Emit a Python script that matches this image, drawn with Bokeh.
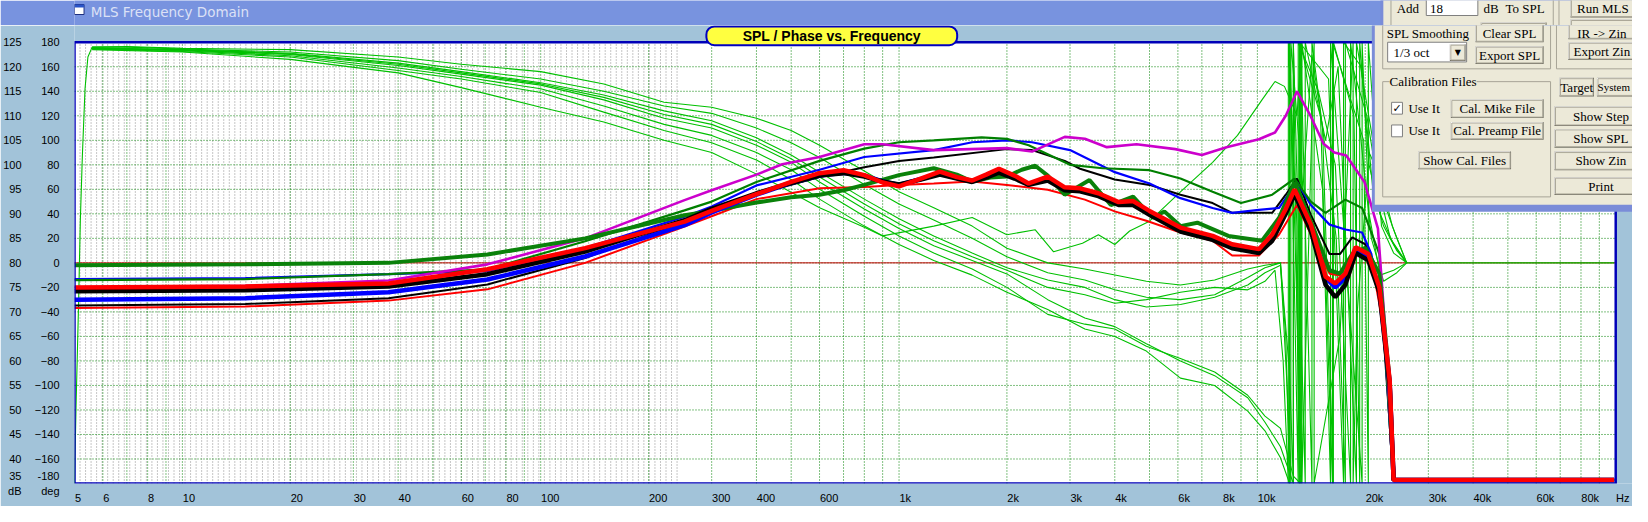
import numpy as np
from bokeh.plotting import figure
from bokeh.layouts import column
from bokeh.models import Range1d, LinearAxis, FixedTicker, BoxAnnotation, Label
from bokeh.embed import file_html
from bokeh.resources import INLINE

# ---------------- data ----------------
x_tick_values = [5, 6, 8, 10, 20, 30, 40, 60, 80, 100, 200, 300, 400, 600, 1000, 2000, 3000,
                 4000, 6000, 8000, 10000, 20000, 30000, 40000, 60000, 80000]
x_tick_labels = ["5", "6", "8", "10", "20", "30", "40", "60", "80", "100", "200", "300", "400",
                 "600", "1k", "2k", "3k", "4k", "6k", "8k", "10k", "20k", "30k", "40k", "60k", "80k"]
db_ticks = [35, 40, 45, 50, 55, 60, 65, 70, 75, 80, 85, 90, 95, 100, 105, 110, 115, 120, 125]
deg_ticks = [-180, -160, -140, -120, -100, -80, -60, -40, -20, 0, 20, 40, 60, 80, 100, 120, 140, 160, 180]
grid_freqs = [6, 7, 8, 9, 10, 20, 30, 40, 50, 60, 70, 80, 90, 100, 200, 300, 400, 500, 600, 700, 800, 900,
              1000, 2000, 3000, 4000, 5000, 6000, 7000, 8000, 9000, 10000, 20000, 30000, 40000, 50000,
              60000, 70000, 80000, 90000]

# SPL curves (Hz, dB)
f_thick = [5, 15, 37.6, 71, 133, 252, 300, 400, 500, 600, 700, 800, 900, 1000, 1150, 1300, 1450, 1600,
           1750, 1900, 2100, 2300, 2600, 2900, 3200, 3600, 4100, 4500, 5000, 6100, 7500, 8500, 10100,
           11000, 12000, 12700, 14100, 15500, 16500, 17600, 18800, 20400, 21900, 23400, 24000, 99000]
spl_red_thick = [75, 75.2, 75.8, 78.7, 83, 88.4, 90.6, 94, 96.5, 98.3, 98.9, 97.9, 96.4, 95.6, 97.2, 98.6,
                 97.5, 96.8, 98, 99.2, 97.8, 96.2, 97.6, 95.4, 95.2, 94.2, 92.4, 92.6, 90.6, 87.2, 85.5,
                 83.8, 82.8, 85.8, 91, 95, 87.8, 77.2, 75.8, 77.8, 83.2, 81.8, 75, 56, 35.7, 35.7]
spl_black_thick = [74.2, 74.4, 75.2, 77.7, 82.3, 88.7, 91, 94.2, 96.3, 97.8, 98.3, 97.6, 96.6, 96, 97, 98,
                   97.2, 96.5, 97.4, 98.4, 97.2, 95.9, 96.8, 94.8, 94.6, 93.6, 91.8, 91.8, 89.8, 86.4, 84.7,
                   83, 82, 84.5, 90, 94, 86.5, 75.5, 73, 75.5, 82, 80.5, 74, 55, 35.7, 35.7]
spl_blue_thick = [72.5, 72.8, 74, 76.6, 81.3, 87.7, 90.3, 93.9, 96.3, 97.8, 98.4, 97.8, 96.6, 95.9, 97.1,
                  98.3, 97.3, 96.6, 97.7, 98.8, 97.4, 96, 97.2, 95, 94.9, 93.9, 92.1, 92.2, 90.2, 86.8,
                  85.1, 83.4, 82.4, 85.2, 90.5, 94.6, 87.2, 77, 75, 77, 82.8, 81.2, 74.5, 55.5, 35.7, 35.7]

f_green_thick = [5, 15, 37.6, 71, 133, 252, 300, 400, 500, 600, 700, 800, 1000, 1250, 1450, 1600, 1800,
                 2000, 2200, 2400, 2600, 2900, 3400, 3900, 4500, 5100, 5500, 6100, 6800, 8300, 10300,
                 11500, 12700, 14100, 15900, 17000, 18400, 20000, 21900, 23400, 24000, 99000]
spl_green_thick = [79.5, 79.7, 80, 81.7, 85, 89.7, 90.6, 92.3, 93.4, 93.9, 94.8, 95.9, 97.9, 99.3, 98, 96.6,
                   97.4, 97.6, 99, 99.8, 97.8, 93.9, 96.9, 91.8, 93.5, 89.2, 90.5, 87.5, 88.2, 85.5, 84.5,
                   89.2, 96.5, 88.5, 78.5, 77.8, 81.8, 83.1, 77.8, 56, 35.7, 35.7]

f_red_thin = [5, 15, 37.6, 71, 133, 252, 300, 400, 600, 800, 1000, 1250, 1600, 2000, 2600, 3300, 4000,
              4900, 6100, 7500, 8500, 10100, 11500, 12900, 14100, 15900, 18000, 19200, 20800, 23000,
              24200, 99000]
spl_red_thin = [70.8, 71.1, 72.3, 74.6, 80, 87.4, 89.5, 93, 95.2, 95.5, 95.9, 96.2, 96.6, 95.9, 94.9, 92.9,
                90.5, 88.6, 86.2, 84.5, 81.5, 81.5, 85.8, 91.8, 85.8, 77.8, 77.1, 83.1, 80.5, 63, 35.7, 35.7]

f_black_thin = [5, 15, 37.6, 71, 133, 252, 300, 400, 600, 800, 1000, 1250, 2000, 2350, 2900, 3200, 4000,
                5000, 6100, 7500, 8500, 11000, 12000, 12900, 14100, 15900, 17000, 18400, 20000, 21900,
                23600, 24100, 99000]
spl_black_thin = [71.3, 71.6, 72.8, 75.6, 81, 88.4, 90.8, 94, 97.5, 99.5, 100.8, 101.5, 103.2, 103, 100.8,
                  99.2, 97, 95.9, 93.9, 92.2, 90.2, 90.2, 93.9, 97.2, 89.8, 81.8, 81.8, 85.2, 83.8, 77.8,
                  43, 35.7, 35.7]

f_blue_thin = [5, 15, 37.6, 71, 133, 252, 300, 400, 600, 800, 1250, 1600, 2000, 2350, 3000, 4000, 5000,
               6100, 7500, 8500, 10100, 11500, 12900, 14100, 15900, 17600, 19600, 20800, 22400, 23600,
               24100, 99000]
spl_blue_thin = [76.7, 76.9, 77.7, 78.3, 83, 89.4, 91.5, 95.8, 99, 101.6, 103, 104.6, 105, 104.6, 103, 98.5,
                 96.2, 93.2, 91.2, 90.2, 90.8, 91.2, 96.5, 91.8, 87.8, 86.8, 86.2, 81.8, 69.8, 43, 35.7, 35.7]

f_green_thin = [5, 15, 37.6, 71, 133, 252, 300, 400, 600, 800, 1000, 1250, 1700, 2000, 2300, 3000, 3700,
                5000, 6100, 7500, 9000, 11000, 12700, 14100, 15500, 17600, 19600, 21900, 23600, 24100, 99000]
spl_green_thin = [76.5, 76.7, 77.7, 78.7, 84.4, 90.7, 92.5, 96.5, 100.8, 103.3, 104.6, 105, 105.6, 105.3,
                  104, 100, 99.3, 98.9, 97.2, 94.5, 92.2, 93.9, 97.2, 92.5, 90.2, 92.9, 91.2, 81.8, 43,
                  35.7, 35.7]

f_magenta = [5, 15, 37.6, 71, 133, 252, 300, 400, 472, 600, 800, 900, 1250, 2000, 2350, 2900, 3300, 3800,
             4600, 5900, 7000, 8200, 10100, 11200, 12000, 12900, 14000, 15300, 16400, 17700, 19900, 21700,
             22700, 23600, 24200, 99000]
spl_magenta = [75, 75.3, 76.4, 79.7, 85, 92.8, 94.8, 98, 100.1, 101.6, 104.2, 104.2, 103, 103.4, 102.7,
               105.7, 105.3, 103.6, 104.2, 103.2, 102, 103.6, 105.2, 106.6, 110, 115, 110.3, 104.3, 102.5,
               101.9, 96.5, 87, 67, 45, 35.7, 35.7]

# Phase curves (Hz, deg); +180/-180 pairs at one frequency are the phase wraps
f_ph1 = [5.0, 5.05, 5.13, 5.19, 5.26, 5.35, 5.45, 5.6, 7, 10, 20, 40, 60, 100, 150, 221, 300, 400, 500, 600,
         800, 1000, 1250, 1600, 2000, 2600, 3300, 4900, 6100, 7600, 9400, 10500, 11600, 12300, 12600, 12600,
         13100, 13100, 15800, 17400, 17400, 19500, 21000, 22500, 24500, 26100, 99000]
ph1 = [-180, -117, -36, 34, 88, 142, 168, 176, 176.5, 175, 174, 168, 162, 156, 146, 131, 127, 118, 108, 96,
       75, 58, 45, 30, 12, 0, -5, -15, -18, -14, -5, -2, 0, -90, -180, 180, -180, 180, 150, -180, 180, 160,
       60, 30, 10, 0, 0]
f_ph2 = [5.6, 7, 10, 20, 40, 60, 100, 150, 221, 300, 400, 500, 600, 800, 1000, 1250, 1600, 2000, 2600, 3300,
         4000, 4900, 6100, 7600, 9400, 10500, 11600, 12100, 12400, 12400, 13400, 14200, 15200, 16300, 16300,
         18600, 19300, 19300, 20500, 22000, 24000, 26100]
ph2 = [176, 176, 174.5, 172, 165, 158, 150, 140, 128, 122, 110, 98, 86, 64, 48, 35, 20, 5, -8, -14, -22, -28,
       -30, -26, -12, -4, 0, -100, -180, 180, 60, 170, 110, -180, 180, 120, -180, 180, 80, 40, 15, 0]
f_ph3 = [5.6, 10, 20, 40, 60, 100, 150, 221, 300, 400, 500, 600, 800, 1000, 1250, 1600, 2000, 2600, 3300,
         4000, 4900, 6100, 7600, 9400, 10500, 11600, 12000, 12300, 12300, 13000, 13000, 14800, 16500, 18200,
         18200, 20800, 22500, 24500, 26100]
ph3 = [175.5, 174, 171, 163, 156, 147, 137, 124, 116, 102, 88, 74, 52, 36, 22, 8, -4, -14, -20, -30, -36, -34,
       -28, -18, -8, -2, -60, -180, 180, -180, 180, 140, 80, -180, 180, 20, -15, -8, 0]
f_ph4 = [5.6, 10, 20, 40, 60, 100, 150, 221, 300, 400, 500, 600, 800, 1000, 1250, 1600, 2000, 2600, 3300,
         4000, 4900, 6100, 7600, 9400, 10500, 11600, 12600, 12600, 13600, 13600, 15500, 16800, 18900, 18900,
         21000, 22500, 24500, 26100]
ph4 = [175, 173.5, 170, 161, 154, 145, 133, 118, 110, 96, 82, 66, 44, 28, 14, 2, -9, -30, -45, -52, -66, -80,
       -92, -110, -130, -150, -180, 180, -180, 180, 100, 160, -180, 180, 100, 50, 20, 0]
f_ph5 = [5.6, 10, 20, 40, 60, 100, 150, 221, 300, 400, 500, 600, 800, 1000, 1250, 1600, 2000, 2600, 3300,
         4000, 4900, 6100, 7600, 9400, 10500, 11600, 12600, 13200, 13200, 14200, 14200, 16600, 17600, 17600,
         20200, 21800, 23500, 26100]
ph5 = [175, 173, 169, 159, 152, 142, 128, 113, 104, 90, 76, 60, 38, 22, 8, -5, -20, -42, -50, -54, -68, -78,
       -89, -108, -125, -135, -174, -180, 180, -180, 180, 20, -180, 180, 120, 60, 20, 0]
f_ph6 = [5.6, 10, 20, 40, 60, 100, 150, 221, 300, 400, 500, 600, 800, 1000, 1250, 1600, 2000, 2600, 3300,
         4000, 4900, 6100, 7600, 9400, 10500, 11600, 12300, 12300, 13300, 13300, 15200, 16000, 16000, 19600,
         19600, 20500, 22000, 24000, 26100]
ph6 = [174.5, 172.5, 168, 157, 150, 139, 123, 108, 98, 84, 68, 52, 30, 15, 2, -10, -24, -38, -54, -60, -72,
       -94, -100, -121, -137, -159, -180, 180, -180, 180, 60, -180, 180, -180, 180, 40, -10, -6, 0]
f_ph7 = [5.6, 10, 20, 40, 60, 100, 150, 221, 300, 430, 600, 800, 900, 1250, 1600, 2000, 2400, 2700, 3250,
         3600, 4000, 4400, 5000, 6100, 7500, 8800, 10300, 11200, 11900, 12900, 13300, 13300, 13800, 14400,
         14400, 17000, 18500, 18500, 19000, 20500, 22000, 23800, 26100]
ph7 = [174, 172, 166, 155, 143, 127, 115, 100, 90, 68, 45, 29, 22, 30, 37, 23, 27, 9, 16, 23, 15, 26, 34, 58,
       82, 104, 133, 148, 144, 120, 180, -180, -20, 180, -180, -60, 180, -180, -40, 90, 70, 30, 0]
f_ph8 = [5.6, 10, 20, 40, 60, 100, 150, 221, 300, 400, 500, 600, 800, 1000, 1250, 1600, 2000, 2600, 3300,
         4000, 4900, 6100, 7600, 9400, 10500, 11200, 11800, 12200, 12200, 12900, 13100, 13100, 15000, 16200,
         16200, 19800, 20400, 20400, 22200, 24000, 26100]
ph8 = [175, 173.8, 170.5, 162, 155, 146, 135, 121, 113, 99, 85, 70, 48, 32, 18, 5, -6, -20, -26, -33, -30,
       -24, -20, -22, -15, -6, -80, -180, 180, 30, -180, 180, 120, -180, 180, 100, -180, 180, 30, 8, 0]

# ---------------- geometry (page pixels) ----------------
W = 1632
TOP_H = 25                 # title-bar strip: page y 8..33
MAIN_H = 481               # page y 33..514
PLOT_L, PLOT_R = 62, 1623  # page x of plot frame
PLOT_T, PLOT_B = 50, 498   # page y of plot frame
MAIN_TOP = 33
PXD = (PLOT_R - PLOT_L) / np.log10(100000 / 5)   # px per decade
L5 = np.log10(5)

CLIENT = "#A2C3D9"
TITLEBAR = "#7893DF"
BEIGE = "#ECE9D8"
GRIDGREEN = "#008000"


def MX(px):
    return float(10 ** (L5 + (px - PLOT_L) / PXD))


def MY(py):
    return float(-180 + (PLOT_B - py) / (PLOT_B - PLOT_T) * 360)


x_end = MX(8 + W)
deg_end = MY(MAIN_TOP)
db_end = 35 + (deg_end + 180) / 360 * 90

# ---------------- main figure ----------------
p = figure(width=W, height=MAIN_H, x_axis_type="log", x_range=Range1d(5, x_end),
           y_range=Range1d(-180, deg_end), output_backend="svg", toolbar_location=None,
           min_border_left=PLOT_L - 8, min_border_right=0, min_border_top=0,
           min_border_bottom=MAIN_TOP + MAIN_H - PLOT_B,
           background_fill_color=CLIENT, border_fill_color=CLIENT, outline_line_color=None)
p.grid.visible = False
p.extra_y_ranges = {"db": Range1d(35, db_end)}

AX = dict(axis_line_color=None, major_tick_line_color=None, minor_tick_line_color=None,
          major_label_text_font="Liberation Sans", major_label_text_font_size="11px",
          major_label_text_color="black")

# the reference writes each frequency label starting at its grid line: shift the centred
# Bokeh labels right by half their (Arial-metric) width
CHAR_W = {"k": 5.5, "H": 7.94, "z": 5.5}


def label_pos(val, text):
    w = sum(CHAR_W.get(ch, 6.12) for ch in text)
    return float(val * 10 ** ((w / 2 + 0.5) / PXD))


x_label_pos = [label_pos(v, s) for v, s in zip(x_tick_values, x_tick_labels)] + [label_pos(100000, "Hz")]
xa = p.xaxis[0]
xa.ticker = FixedTicker(ticks=x_label_pos)
xa.major_label_overrides = dict(zip(x_label_pos, x_tick_labels + ["Hz"]))
xa.major_label_standoff = 2
for k, v in AX.items():
    setattr(xa, k, v)

ya = p.yaxis[0]
ya.ticker = FixedTicker(ticks=deg_ticks)
ya.major_label_overrides = {-180: "-180\ndeg"}
ya.major_label_standoff = 9
for k, v in AX.items():
    setattr(ya, k, v)

dba = LinearAxis(y_range_name="db", ticker=FixedTicker(ticks=db_ticks), major_label_standoff=4,
                 major_label_overrides={35: "35\ndB"}, **AX)
p.add_layout(dba, "left")

# plot area background and grid
p.add_layout(BoxAnnotation(left=5, right=100000, bottom=-180, top=180, fill_color="white", fill_alpha=1,
                           line_color=None, level="image"))
dense = list(5 * 10 ** (np.arange(1, 110) * 5.6 / 363))
p.segment(x0=dense, y0=[-180] * len(dense), x1=dense, y1=[180] * len(dense), line_color="#8C8C8C",
          line_width=1, line_dash="1 2", level="underlay")
p.segment(x0=grid_freqs, y0=[-180] * len(grid_freqs), x1=grid_freqs, y1=[180] * len(grid_freqs),
          line_color=GRIDGREEN, line_width=1, line_dash="1 2", level="underlay")
hl = deg_ticks[1:-1]
p.segment(x0=[5] * len(hl), y0=hl, x1=[100000] * len(hl), y1=hl, line_color=GRIDGREEN, line_width=1,
          line_dash="1 2", level="underlay")
p.segment(x0=[5], y0=[0], x1=[100000], y1=[0], line_color="#C00000", line_width=1, level="underlay")

# phase curves
for f, d in [(f_ph1, ph1), (f_ph2, ph2), (f_ph3, ph3), (f_ph4, ph4), (f_ph5, ph5),
             (f_ph6, ph6), (f_ph7, ph7), (f_ph8, ph8)]:
    p.line(f, d, line_color="#00C000", line_width=1.1)

# SPL curves
for f, v, c, w in [(f_red_thin, spl_red_thin, "#FF0000", 2), (f_black_thin, spl_black_thin, "#000000", 2),
                   (f_blue_thin, spl_blue_thin, "#0000FF", 2.2), (f_green_thin, spl_green_thin, "#008000", 2.2),
                   (f_magenta, spl_magenta, "#CC00CC", 2.6), (f_green_thick, spl_green_thick, "#0A820A", 4),
                   (f_thick, spl_blue_thick, "#0000FF", 4.5), (f_thick, spl_black_thick, "#000000", 4.5),
                   (f_thick, spl_red_thick, "#FF0000", 4.5)]:
    p.line(f, v, y_range_name="db", line_color=c, line_width=w)

# plot border
p.add_layout(BoxAnnotation(left=5, right=100000, bottom=-180, top=180, fill_color=None,
                           line_color="#0000B8", line_alpha=1, line_width=2.5))

# ---------------- title-bar strip figure (pixel coordinates) ----------------
t = figure(width=W, height=TOP_H, x_range=Range1d(0, W), y_range=Range1d(TOP_H, 0),
           output_backend="svg", toolbar_location=None, x_axis_location=None, y_axis_location=None,
           min_border=0, background_fill_color=TITLEBAR, border_fill_color=TITLEBAR, outline_line_color=None)
t.grid.visible = False

FIGS = [(t, lambda px: float(px - 8), lambda py: float(py - 8), 8, 33),
        (p, MX, MY, 33, 514)]


def bx(x0, y0, x1, y1, fill=None, line=None, lw=1, **kw):
    for fig, fx, fy, ya_, yb_ in FIGS:
        if y1 < ya_ or y0 > yb_:
            continue
        fig.add_layout(BoxAnnotation(left=fx(x0), right=fx(x1), top=fy(y0), bottom=fy(y1),
                                     fill_color=fill, fill_alpha=1, line_color=line, line_alpha=1,
                                     line_width=lw, **kw))


def txt(x, y, s, size="13px", font="Liberation Serif", align="left", color="black", style="normal", **kw):
    for fig, fx, fy, ya_, yb_ in FIGS:
        if ya_ <= y < yb_:
            fig.add_layout(Label(x=fx(x), y=fy(y), text=s, text_align=align, text_baseline="middle",
                                 text_font_size=size, text_font=font, text_color=color,
                                 text_font_style=style, **kw))
            break


def button(x0, y0, x1, y1, label, cx=None, cy=None, size="13px"):
    bx(x0, y0, x1, y1, fill="#716F64")
    bx(x0, y0, x1 - 1, y1 - 1, fill="#FFFFFF")
    bx(x0 + 1, y0 + 1, x1 - 1, y1 - 1, fill=BEIGE, line="#ACA899")
    if label:
        txt((x0 + x1) / 2 if cx is None else cx, (y0 + y1) / 2 if cy is None else cy, label,
            align="center", size=size)


# window title bar
bx(8, 12, 18, 22, fill="#FFFFFF", line="#1E2F80")
bx(8, 12, 18, 15, fill="#2A54C8")
txt(25, 19, "MLS Frequency Domain", size="13.5px", font="DejaVu Sans", color="#DCE1F6")

# chart title
bx(702, 34, 956, 53, fill="#FFFF40", line="#0000C0", lw=2, border_radius=8)
txt(829, 43.5, "SPL / Phase vs. Frequency", size="14px", font="Liberation Sans", align="center", style="bold")

# control panel
bx(1376, 0, 1660, 222, fill="#7A8CD8")
bx(1379, 0, 1660, 215, fill=BEIGE)
bx(1387, -5, 1557, 77, line="#A7A497")
bx(1563, -5, 1660, 77, line="#A7A497")
bx(1387, 90, 1557, 207, line="#A7A497")

txt(1393, 16, "Add")
bx(1424, 2, 1478, 23, fill="#FFFFFF", line="#7F7F7F")
txt(1428, 16, "18")
txt(1484, 16, "dB")
txt(1507, 16, "To SPL")
txt(1391, 41, "SPL Smoothing")
bx(1392, 50, 1472, 70, fill="#FFFFFF", line="#7F7F7F")
txt(1398, 60, "1/3 oct")
button(1455, 52, 1471, 69, "")
txt(1463, 60.5, "\u25BC", size="8px", font="DejaVu Sans", align="center")
button(1481, 30, 1550, 50, "Clear SPL", cy=41.5)
button(1481, 54, 1550, 72, "Export SPL")
button(1575, 0, 1644, 25, "Run MLS", cx=1609, cy=16)
button(1575, 27, 1644, 47, "IR -> Zin", cx=1609, cy=41.5)
button(1575, 50, 1644, 68, "Export Zin", cx=1609)

txt(1394, 90, "Calibration Files", background_fill_color=BEIGE)
bx(1396, 111, 1407, 123, fill="#FFFFFF", line="#7F7F7F")
txt(1401.5, 117, "\u2713", size="11px", font="DejaVu Sans", align="center", style="bold")
txt(1413, 117, "Use It")
bx(1396, 134, 1407, 146, fill="#FFFFFF", line="#7F7F7F")
txt(1413, 140, "Use It")
button(1456, 108, 1550, 127, "Cal. Mike File")
button(1456, 131, 1550, 149, "Cal. Preamp File")
button(1423, 161, 1517, 179, "Show Cal. Files")

button(1566, 86, 1601, 105, "Target")
button(1604, 86, 1660, 105, "System", cx=1621, size="11px")
button(1561, 115, 1668, 135, "Show Step", cx=1608)
button(1561, 138, 1668, 157, "Show SPL", cx=1608)
button(1561, 161, 1668, 180, "Show Zin", cx=1608)
button(1561, 187, 1668, 205, "Print", cx=1608)

layout = column(t, p, spacing=0)
open("out.html", "w").write(file_html(layout, INLINE))
